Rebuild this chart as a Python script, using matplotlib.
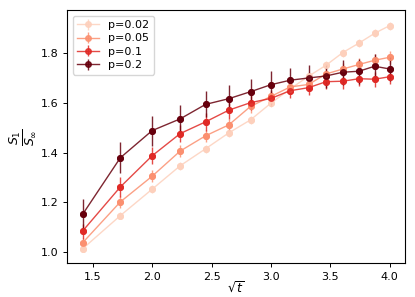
import numpy as np
import matplotlib
matplotlib.use("Agg")
import matplotlib.pyplot as plt

t = np.arange(2, 17)
x = np.sqrt(t)

labels = ["p=0.02", "p=0.05", "p=0.1", "p=0.2"]
colors = ["#fdd0bc", "#fb9070", "#e02a26", "#67000d"]

y_002 = [1.014, 1.147, 1.253, 1.347, 1.415, 1.479, 1.531, 1.598, 1.655, 1.706, 1.750, 1.801, 1.839, 1.878, 1.909]
y_005 = [1.038, 1.202, 1.305, 1.406, 1.467, 1.511, 1.585, 1.625, 1.663, 1.673, 1.715, 1.735, 1.753, 1.770, 1.782]
y_01  = [1.085, 1.262, 1.387, 1.476, 1.523, 1.570, 1.600, 1.617, 1.648, 1.660, 1.684, 1.686, 1.696, 1.694, 1.704]
y_02  = [1.152, 1.379, 1.488, 1.535, 1.593, 1.616, 1.644, 1.672, 1.690, 1.699, 1.707, 1.722, 1.726, 1.746, 1.735]

e_002 = [0.012, 0.015, 0.016, 0.016, 0.016, 0.016, 0.016, 0.016, 0.016, 0.016, 0.016, 0.016, 0.016, 0.016, 0.016]
e_005 = [0.02, 0.025, 0.025, 0.025, 0.025, 0.025, 0.025, 0.025, 0.025, 0.025, 0.025, 0.025, 0.025, 0.025, 0.025]
e_01  = [0.03, 0.04, 0.035, 0.035, 0.035, 0.035, 0.03, 0.03, 0.03, 0.03, 0.03, 0.03, 0.03, 0.03, 0.03]
e_02  = [0.06, 0.062, 0.06, 0.057, 0.052, 0.053, 0.051, 0.054, 0.05, 0.05, 0.05, 0.05, 0.05, 0.05, 0.05]

ys = [y_002, y_005, y_01, y_02]
es = [e_002, e_005, e_01, e_02]

fig = plt.figure(figsize=(4.15, 2.97), dpi=100)
ax = fig.add_axes([0.162, 0.1135, 0.814, 0.8525])

for y, e, c, lab in zip(ys, es, colors, labels):
    ax.errorbar(x, y, yerr=e, color=c, marker="o", markersize=4, lw=1.0,
                elinewidth=1.0, alpha=0.85, label=lab)
    ax.plot(x, y, "o", color=c, markersize=4, lw=0)

ax.tick_params(labelsize=8, length=3, width=0.7)
for s in ax.spines.values():
    s.set_linewidth(0.8)
ax.set_yticks([1.0, 1.2, 1.4, 1.6, 1.8])
ax.set_xticks([1.5, 2.0, 2.5, 3.0, 3.5, 4.0])
ax.set_xlabel(r"$\sqrt{t}$", fontsize=9, labelpad=-1.5)
ax.set_ylabel(r"$\frac{S_1}{S_\infty}$", fontsize=13, labelpad=2)
ax.legend(loc="upper left", fontsize=8, handlelength=2.0, borderpad=0.4,
          labelspacing=0.3)

fig.savefig("out.png", dpi=100)
